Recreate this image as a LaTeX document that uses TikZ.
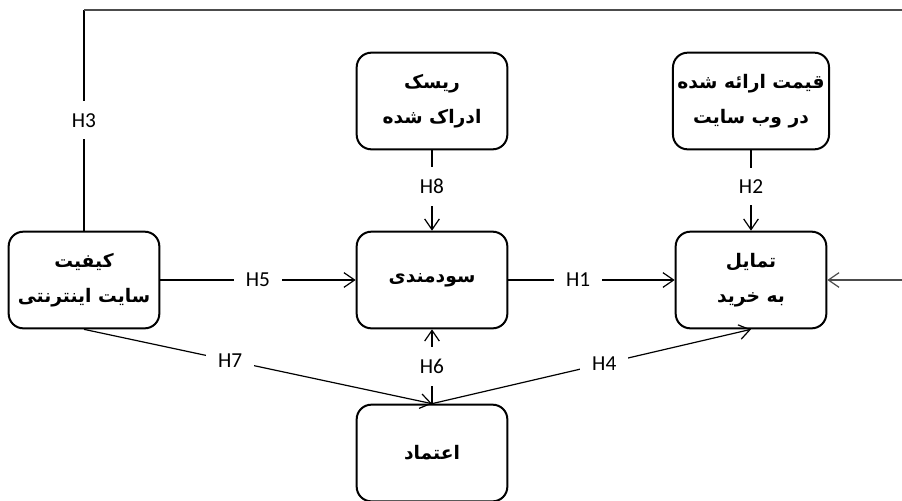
\documentclass[tikz,border=0pt]{standalone}
\usepackage{fontspec}
\setmainfont{Carlito}
\newfontfamily\farsi[Script=Arabic]{DejaVu Sans}
\TeXXeTstate=1
\usetikzlibrary{arrows.meta}
\newcommand{\fa}[1]{{\farsi\bfseries\beginR #1\endR}}
\begin{document}
\begin{tikzpicture}[x=0.75pt, y=-0.75pt]
        % Define styles
        \tikzstyle{box}=[rectangle, draw, line width=1.5pt, rounded corners=11pt, minimum width=113pt, minimum height=72.5pt, align=center, font=\fontsize{14}{26}\selectfont]
        \tikzstyle{arrow}=[->, >={Straight Barb[length=8pt, width=11pt]}, line width=0.9pt]
        \tikzstyle{hyp}=[fill=white, inner sep=9pt, font=\fontsize{16}{18}\selectfont]

        \clip (0,0) rectangle (902,500);

        % Kifiyat-e site (left)
        \node[box] (quality) at (84,280) {\fa{کیفیت}\\\fa{سایت اینترنتی}};

        % Risk
        \node[box] (risk) at (432,101) {\fa{ریسک}\\\fa{ادراک شده}};

        % Gheymat
        \node[box] (price) at (751,101) {\fa{قیمت ارائه شده}\\\fa{در وب سایت}};

        % Sudmandi (center)
        \node[box] (useful) at (432,280) {\fa{سودمندی}};

        % Tamayol be kharid
        \node[box] (intent) at (751,280) {\fa{تمایل}\\\fa{به خرید}};

        % Etemad (bottom)
        \node[box] (trust) at (432,453) {\fa{اعتماد}};

        % loop round the top
        \coordinate (topl) at (84,10);
        \coordinate (topr) at (940,10);
        \coordinate (sider) at (940,280);

        % Arrows
        \draw[arrow] (quality) -- (useful) node[hyp, midway] {H5};
        \draw[arrow] (useful) -- (intent) node[hyp, pos=0.42] {H1};
        \draw[arrow] (risk) -- (useful) node[hyp, pos=0.45] {H8};
        \draw[arrow] (price) -- (intent) node[hyp, pos=0.45] {H2};
        \draw[arrow] (trust) -- (useful) node[hyp, midway] {H6};
        \draw[arrow] (quality.south) -- (trust.north) node[hyp, pos=0.42] {H7};
        \draw[arrow] (trust.north) -- (intent.south) node[hyp, pos=0.54] {H4};
        \draw[line width=0.9pt] (quality.north) -- (topl) node[hyp, pos=0.5] {H3};
        \draw[arrow, draw=black!70] (topl) -- (topr) -- (sider) -- (intent.east);
\end{tikzpicture}
\end{document}
